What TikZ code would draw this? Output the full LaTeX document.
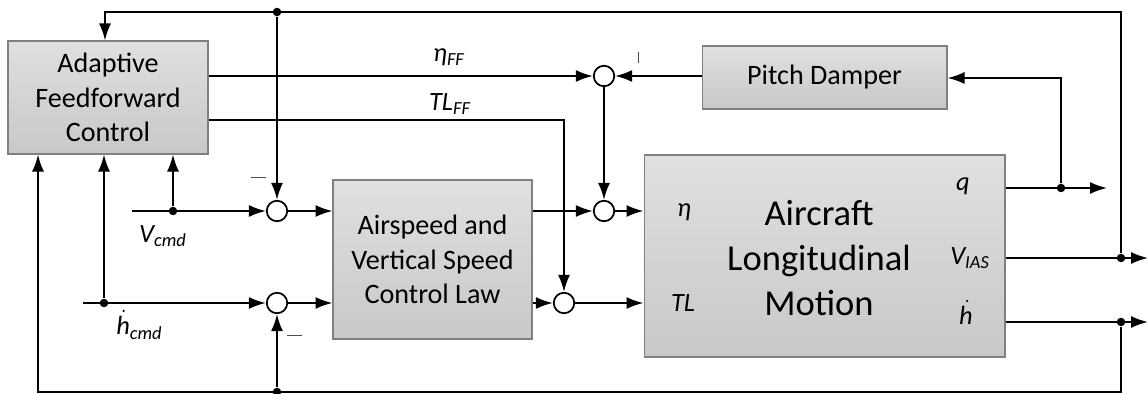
\documentclass[tikz,border=0pt]{standalone}
\usepackage{fontspec}
\setmainfont{Carlito}
\usetikzlibrary{arrows.meta}
\definecolor{boxtop}{RGB}{224,224,224}
\definecolor{boxbot}{RGB}{200,200,200}
\definecolor{boxline}{RGB}{128,128,128}
\begin{document}
\begin{tikzpicture}[x=0.02cm,y=-0.02cm,
  blk/.style={draw=boxline, line width=0.6pt, top color=boxtop, bottom color=boxbot,
    inner sep=0pt, align=center, font=\fontsize{16}{19.8}\selectfont},
  sumc/.style={circle, draw, fill=white, line width=1pt, minimum size=4.1mm, inner sep=0pt},
  jdot/.style={circle, fill, inner sep=0pt, minimum size=1.7mm},
  arr/.style={line width=1.1pt, -{Latex[length=3.4mm,width=2.4mm]}},
  lab/.style={inner sep=0pt, font=\fontsize{15}{17}\selectfont\itshape},
  minus/.style={line width=0.5pt, black!70}]
\useasboundingbox (0,0) rectangle (1148,394);
% blocks
\node[blk, minimum width=4cm, minimum height=2.26cm] (AFC) at (108,97.5) {Adaptive\\Feedforward\\Control};
\node[blk, minimum width=3.98cm, minimum height=3.18cm] (AS) at (432.5,259.5) {Airspeed and\\Vertical Speed\\Control Law};
\node[blk, minimum width=4.9cm, minimum height=1.26cm] (PD) at (824.5,77.5) {Pitch Damper};
\node[blk, minimum width=7.22cm, minimum height=4.04cm] (AC) at (824.5,256) {};
\node[inner sep=0pt, align=center, font=\fontsize{20.8}{25.5}\selectfont] (ACt) at (819,258) {Aircraft\\Longitudinal\\Motion};
% summing junctions
\node[sumc] (s1) at (277,211) {};
\node[sumc] (s2) at (277,303) {};
\node[sumc] (s3) at (604,76) {};
\node[sumc] (s4) at (604,211) {};
\node[sumc] (s5) at (564,303) {};
% junction dots
\node[jdot] (d1) at (277,12) {};
\node[jdot] (d2) at (277,392) {};
\node[jdot] (d3) at (173,211) {};
\node[jdot] (d4) at (104,303) {};
\node[jdot] (d5) at (1061,188) {};
\node[jdot] (d6) at (1121,258) {};
\node[jdot] (d7) at (1121,322) {};
% corners and free ends
\coordinate (tl) at (105,12);
\coordinate (tr) at (1121,12);
\coordinate (bl) at (38,392);
\coordinate (br) at (1121,392);
\coordinate (vin) at (132,211);
\coordinate (hin) at (83,303);
\coordinate (tlc) at (564,120);
\coordinate (qc) at (1061,78);
\coordinate (qend) at (1107,188);
\coordinate (vend) at (1148,258);
\coordinate (hend) at (1148,322);
% connectors
\draw[arr] (d6) -- (tr) -- (tl) -- (tl |- AFC.north);
\draw[arr] (d1) -- (s1);
\draw[arr] (vin) -- (s1);
\draw[arr] (d3) -- (d3 |- AFC.south);
\draw[arr] (hin) -- (s2);
\draw[arr] (d4) -- (d4 |- AFC.south);
\draw[arr] (d7) -- (br) -- (bl) -- (bl |- AFC.south);
\draw[arr] (d2) -- (s2);
\draw[arr] (s1) -- (s1 -| AS.west);
\draw[arr] (s2) -- (s2 -| AS.west);
\draw[arr] (AS.east |- s4) -- (s4);
\draw[arr] (s4) -- (s4 -| AC.west);
\draw[arr] (AS.east |- s5) -- (s5);
\draw[arr] (s5) -- (s5 -| AC.west);
\draw[arr] (AFC.east |- s3) -- (s3);
\draw[arr] (AFC.east |- tlc) -- (tlc) -- (s5);
\draw[arr] (PD.west |- s3) -- (s3);
\draw[arr] (s3) -- (s4);
\draw[arr] (AC.east |- d5) -- (qend);
\draw[arr] (d5) -- (qc) -- (qc -| PD.east);
\draw[arr] (AC.east |- d6) -- (vend);
\draw[arr] (AC.east |- d7) -- (hend);
% signs
\draw[minus] (251,177) -- (266,177);
\draw[minus] (287,335) -- (302,335);
\draw[minus] (638,52) -- (638,63);
% labels
\node[lab] (letaff) at (449,57) {η\textsubscript{FF}};
\node[lab] (ltlff) at (450,104) {TL\textsubscript{FF}};
\node[lab] (lvcmd) at (163,236) {V\textsubscript{cmd}};
\node[lab, anchor=base west] (lhcmd) at (116,335) {h\textsubscript{cmd}};
\node[lab] (leta) at (684,212) {η};
\node[lab] (ltl) at (683,303) {TL};
\node[lab] (lq) at (963,186) {q};
\node[lab] (lvias) at (970,258) {V\textsubscript{IAS}};
\node[lab, anchor=base] (lhd) at (966,325) {h};
% derivative dots over h
\fill (123.5,311) circle[radius=0.25mm];
\fill (967,301) circle[radius=0.25mm];
\end{tikzpicture}
\end{document}
